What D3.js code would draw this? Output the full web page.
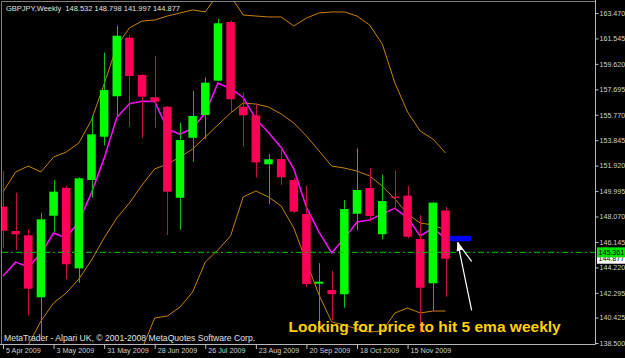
<!DOCTYPE html>
<html><head><meta charset="utf-8">
<script src="https://cdn.jsdelivr.net/npm/d3@7"></script>
<style>
html,body{margin:0;padding:0;background:#000;overflow:hidden}
svg{display:block}
text{font-family:"Liberation Sans",Arial,sans-serif}
</style></head><body>
<div id="content"></div>
<script>
// weekly GBPJPY bars
var weeks = ["2009-04-05","2009-04-12","2009-04-19","2009-04-26","2009-05-03","2009-05-10","2009-05-17","2009-05-24",
    "2009-05-31","2009-06-07","2009-06-14","2009-06-21","2009-06-28","2009-07-05","2009-07-12","2009-07-19",
    "2009-07-26","2009-08-02","2009-08-09","2009-08-16","2009-08-23","2009-08-30","2009-09-06","2009-09-13",
    "2009-09-20","2009-09-27","2009-10-04","2009-10-11","2009-10-18","2009-10-25","2009-11-01","2009-11-08",
    "2009-11-15","2009-11-22","2009-11-29","2009-12-06"];
var opens  = [148.81,146.97,146.65,141.96,148.13,150.25,144.15,150.83,154.11,157.17,161.60,158.78,157.09,156.38,149.49,154.03,155.75,158.35,162.79,156.38,155.73,152.02,152.42,150.83,148.26,142.99,142.51,142.19,148.28,150.23,146.73,149.58,149.65,146.37,143.02,148.532];
var highs  = [151.51,149.87,147.10,148.36,150.83,150.38,151.04,155.70,160.47,162.51,161.81,158.85,160.22,156.43,155.17,157.57,158.60,163.02,162.89,157.44,156.64,152.80,153.28,150.98,150.40,144.53,143.97,149.32,153.23,151.72,151.26,151.54,150.38,148.19,149.15,148.798];
var lows   = [145.67,145.54,140.60,138.98,146.92,143.32,143.06,149.49,153.46,155.62,154.87,154.03,154.75,146.67,147.05,152.22,153.91,158.30,155.93,153.35,151.01,149.02,150.46,148.34,142.76,139.23,140.24,141.17,147.05,147.68,146.35,148.56,146.42,139.28,140.94,141.997];
var closes = [147.00,146.73,142.61,147.86,149.95,144.46,150.96,154.29,157.64,161.75,158.70,157.14,156.76,149.95,153.86,155.68,158.20,162.69,156.94,155.73,152.17,152.40,151.04,148.44,142.96,143.14,142.19,148.64,150.08,148.11,149.24,149.50,146.54,142.68,149.12,144.877];

// indicator lines (5 ema, bollinger bands)
var ema5     = [143.57,144.62,144.27,145.25,146.82,146.45,147.70,149.88,152.47,155.56,156.61,156.79,156.78,154.70,154.29,154.75,155.90,158.16,157.75,157.08,155.44,154.43,153.30,151.68,148.77,146.89,145.32,146.43,147.65,147.80,148.28,148.69,147.97,146.60,147.18,146.41];
var bbUpper  = [149.93,151.44,151.89,151.44,152.57,152.95,153.63,155.37,158.10,160.97,162.34,162.86,162.94,163.24,163.47,163.70,163.55,164.91,164.76,163.32,163.24,163.17,163.17,162.49,163.09,163.47,163.55,163.55,163.24,162.56,161.12,158.17,155.98,154.54,153.94,152.88];
var bbMiddle = [134.57,136.61,138.35,140.16,141.53,142.28,143.34,144.78,146.45,147.96,149.09,150.46,151.67,152.04,152.57,153.18,154.09,155.00,155.90,156.66,156.58,156.36,155.83,155.15,154.16,153.03,151.89,151.74,151.51,151.14,150.38,149.40,148.26,147.58,147.43,147.05];
var bbLower  = [119.21,121.78,124.81,128.88,130.49,131.61,133.05,134.19,134.80,134.95,135.84,138.06,140.39,140.54,141.22,142.36,144.63,145.54,146.60,149.55,150.00,149.55,148.87,147.20,144.63,142.13,140.09,139.86,139.56,139.33,139.41,140.77,141.15,140.77,140.92,140.92];

var priceTicks = ["163.470","161.545","159.620","157.695","155.770","153.845","151.920","149.995","148.070","146.145","144.220","142.295","140.425","138.500"];
var dateTicks = ["2009-04-05","2009-05-03","2009-05-31","2009-06-28","2009-07-26","2009-08-23","2009-09-20","2009-10-18","2009-11-15"];

var title = "GBPJPY,Weekly";
var lastBar = [148.532, 148.798, 141.997, 144.877];
var linePrice = 145.361;
var nextWeek = "2009-12-13", emaNext = 146.41;
var note = "Looking for price to hit 5 ema weekly";
var credit = "MetaTrader - Alpari UK, \u00a9 2001-2008 MetaQuotes Software Corp.";

var width = 625, height = 358,
    plotRight = 595.5, plotBottom = 344,
    parse = d3.utcParse("%Y-%m-%d"),
    dates = weeks.map(parse);

var x = d3.scaleUtc().domain([dates[0], dates[dates.length - 1]]).range([3, 445.5]),
    y = d3.scaleLinear().domain([138.5, 163.47]).range([343, 13]);

var svg = d3.select('#content').append('svg')
    .attr('width', width).attr('height', height);

svg.append('rect').attr('width', width).attr('height', height).attr('fill', '#000');

svg.append('clipPath').attr('id', 'plot')
  .append('rect').attr('x', 2).attr('y', 2).attr('width', plotRight - 2).attr('height', plotBottom - 2);

var g = svg.append('g').attr('clip-path', 'url(#plot)');

var line = d3.line()
    .x(function(d, i){ return x(dates[i]); })
    .y(function(d){ return y(d); });

// bollinger bands
[bbUpper, bbMiddle, bbLower].forEach(function(s){
    g.append('path').attr('d', line(s))
        .attr('fill', 'none').attr('stroke', '#c8800c').attr('stroke-width', 1);
});

// 5 ema
g.append('path').attr('d', line(ema5))
    .attr('fill', 'none').attr('stroke', '#f010f0').attr('stroke-width', 1.6);

// candles
var bars = weeks.map(function(w, i){
    return {date: dates[i], o: opens[i], h: highs[i], l: lows[i], c: closes[i]};
});
var candle = g.selectAll('g.bar').data(bars).enter().append('g').attr('class', 'bar');
candle.append('line')
    .attr('x1', function(d){ return Math.round(x(d.date)) + 0.5; })
    .attr('x2', function(d){ return Math.round(x(d.date)) + 0.5; })
    .attr('y1', function(d){ return y(d.h); })
    .attr('y2', function(d){ return y(d.l); })
    .attr('stroke', function(d){ return d.c >= d.o ? '#10c010' : '#c8103c'; })
    .attr('stroke-width', 1);
candle.append('rect')
    .attr('x', function(d){ return x(d.date) - 4.25; })
    .attr('width', 8.5)
    .attr('y', function(d){ return y(Math.max(d.o, d.c)); })
    .attr('height', function(d){ return Math.max(1.2, Math.abs(y(d.o) - y(d.c))); })
    .attr('fill', function(d){ return d.c >= d.o ? '#00ff00' : '#ff0058'; });

// horizontal line
g.append('line')
    .attr('x1', 2).attr('x2', plotRight)
    .attr('y1', y(linePrice)).attr('y2', y(linePrice))
    .attr('stroke', '#00c800').attr('stroke-width', 1)
    .attr('stroke-dasharray', '6,3,2,3');

// projected ema marker
var nx = x(parse(nextWeek)), ny = y(emaNext);
g.append('rect')
    .attr('x', nx - 8).attr('y', ny - 2.6)
    .attr('width', 21).attr('height', 5.4)
    .attr('fill', '#0000ff');

// white arrow pointing at it
var tipX = nx - 0.5, tipY = ny + 4;
svg.append('line')
    .attr('x1', tipX).attr('y1', tipY).attr('x2', tipX + 14).attr('y2', tipY + 68)
    .attr('stroke', '#fff').attr('stroke-width', 1.2);
svg.append('line')
    .attr('x1', tipX).attr('y1', tipY).attr('x2', tipX + 14).attr('y2', tipY + 19)
    .attr('stroke', '#fff').attr('stroke-width', 1.2);
svg.append('path')
    .attr('d', 'M' + tipX + ',' + tipY + 'L' + (tipX - 1) + ',' + (tipY + 9) + 'L' + (tipX + 5) + ',' + (tipY + 7) + 'Z')
    .attr('fill', '#fff');

// frame
svg.append('path')
    .attr('d', 'M1.5,' + plotBottom + 'V1.5H' + plotRight)
    .attr('fill', 'none').attr('stroke', '#808080');
svg.append('path')
    .attr('d', 'M0,' + (plotBottom + 0.5) + 'H' + plotRight + 'V0')
    .attr('fill', 'none').attr('stroke', '#b8b8b8');

// price axis
var yAxis = d3.axisRight(y)
    .tickValues(priceTicks.map(Number))
    .tickFormat(function(d, i){ return priceTicks[i]; })
    .tickSize(3).tickSizeOuter(0).tickPadding(1);
var ya = svg.append('g').attr('transform', 'translate(' + plotRight + ',0)').call(yAxis);
ya.select('.domain').remove();
ya.selectAll('line').attr('stroke', '#c0c0c0');
ya.selectAll('text').attr('fill', '#d0d0d0').style('font-size', '7.1px')
    .style('font-family', '"Liberation Sans",Arial,sans-serif');

// date axis
var xAxis = d3.axisBottom(x)
    .tickValues(dateTicks.map(parse))
    .tickFormat(d3.utcFormat('%-d %b %Y'))
    .tickSize(5).tickSizeOuter(0);
var xa = svg.append('g').attr('transform', 'translate(0,' + plotBottom + ')').call(xAxis);
xa.select('.domain').remove();
xa.selectAll('line').attr('stroke', '#c0c0c0');
xa.selectAll('text').attr('fill', '#d0d0d0').style('font-size', '7.2px')
    .style('font-family', '"Liberation Sans",Arial,sans-serif')
    .attr('text-anchor', 'start').attr('x', 2.5).attr('y', 4).attr('dy', '0.71em');

// price labels on the axis
function priceTag(p, bg, fg){
    var t = svg.append('g').attr('transform', 'translate(597,' + y(p) + ')');
    t.append('rect').attr('x', 0).attr('y', -5).attr('width', 28).attr('height', 10).attr('fill', bg);
    t.append('text').attr('x', 1.5).attr('dy', '0.35em').attr('fill', fg)
        .style('font-size', '7.1px').text(p.toFixed(3));
}
priceTag(lastBar[3], '#ffffff', '#000');
priceTag(linePrice, '#00e000', '#000');

// header
svg.append('text').attr('x', 6).attr('y', 11).attr('fill', '#e0e0e0').style('font-size', '7.5px')
    .attr('xml:space', 'preserve')
    .text(title + '  ' + lastBar.map(function(v){ return v.toFixed(3); }).join(' '));

svg.append('text').attr('x', 4).attr('y', 341).attr('fill', '#e0e0e0').style('font-size', '8.6px')
    .text(credit);

svg.append('text').attr('x', 288.5).attr('y', 331.5).attr('fill', '#ffd200')
    .style('font-size', '15.5px').style('font-weight', 'bold')
    .text(note);
</script>
</body></html>
